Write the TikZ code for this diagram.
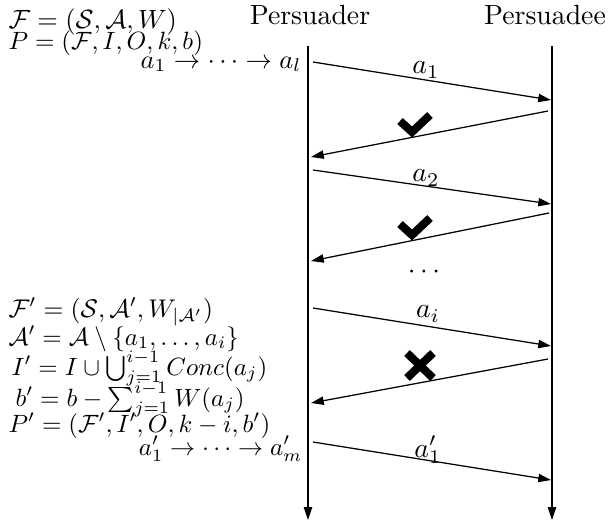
\documentclass[tikz,border=0pt]{standalone}
\usepackage{graphicx}
\usetikzlibrary{arrows.meta}
\newcommand{\rowfit}[2]{\scalebox{#1}{$#2$}}
\begin{document}
\begin{tikzpicture}[x=0.36pt,y=-0.36pt,
  life/.style={line width=0.45pt,-{Triangle[length=4.6pt,width=3pt]}},
  msg/.style={line width=0.45pt,-{Triangle[length=4.6pt,width=3pt]}},
  lbl/.style={inner sep=0pt},
  formula/.style={inner sep=0pt,anchor=base west},
  rformula/.style={inner sep=0pt,anchor=base east},
  tick/.style={line width=2.9pt,line cap=butt,line join=miter}]
\useasboundingbox (0,0) rectangle (608,522);
% headers
\node[lbl] (persuader) at (310,15) {Persuader};
\node[lbl] (persuadee) at (545,15) {Persuadee};
% lifelines
\coordinate (L0) at (308,46); \coordinate (L1) at (308,520);
\coordinate (R0) at (552,46); \coordinate (R1) at (552,520);
\draw[life] (L0) -- (L1);
\draw[life] (R0) -- (R1);
% message end points
\coordinate (m1s) at (313,62);  \coordinate (m1e) at (551,100);
\coordinate (r1s) at (548,111); \coordinate (r1e) at (311,157);
\coordinate (m2s) at (313,170); \coordinate (m2e) at (551,204);
\coordinate (r2s) at (549,213); \coordinate (r2e) at (311,261);
\coordinate (m3s) at (313,308); \coordinate (m3e) at (551,346);
\coordinate (r3s) at (548,359); \coordinate (r3e) at (311,403);
\coordinate (m4s) at (313,442); \coordinate (m4e) at (551,480);
\draw[msg] (m1s) -- (m1e);
\draw[msg] (r1s) -- (r1e);
\draw[msg] (m2s) -- (m2e);
\draw[msg] (r2s) -- (r2e);
\draw[msg] (m3s) -- (m3e);
\draw[msg] (r3s) -- (r3e);
\draw[msg] (m4s) -- (m4e);
% labels
\node[lbl] (la1) at (426,70) {$a_1$};
\node[lbl] (la2) at (426,178) {$a_2$};
\node[lbl] (lai) at (428,314) {$a_i$};
\node[lbl] (la1p) at (428,450) {$a'_1$};
\node[lbl] (dots) at (424,272) {$\cdots$};
% check marks and cross
\draw[tick] (400,121) -- (412,132) -- (430,115);
\draw[tick] (400,224) -- (412,235) -- (430,218);
\draw[tick] (407,353) -- (433,378);
\draw[tick] (433,353) -- (407,378);
% top formulas
\node[formula] (f1) at (8,28) {\rowfit{0.95}{\mathcal{F}=(\mathcal{S},\mathcal{A},W)}};
\node[formula] (f2) at (8,49) {\rowfit{0.9}{P=(\mathcal{F},I,O,k,b)}};
\node[rformula] (f3) at (302,68) {\rowfit{0.95}{a_1\rightarrow\cdots\rightarrow a_l}};
% bottom formulas
\node[formula] (g1) at (8,317) {\rowfit{0.92}{\mathcal{F}'=(\mathcal{S},\mathcal{A}',W_{|\mathcal{A}'})}};
\node[formula] (g2) at (8,345) {\rowfit{0.9}{\mathcal{A}'=\mathcal{A}\setminus\{a_1,\ldots,a_i\}}};
\node[formula] (g3) at (11,375) {\rowfit{0.9}{I'=I\cup\bigcup_{j=1}^{i-1}Conc(a_j)}};
\node[formula] (g4) at (15,406) {\rowfit{0.9}{b'=b-\sum_{j=1}^{i-1}W(a_j)}};
\node[formula] (g5) at (8,432) {\rowfit{0.9}{P'=(\mathcal{F}',I',O,k-i,b')}};
\node[rformula] (g6) at (303,455) {\rowfit{0.9}{a'_1\rightarrow\cdots\rightarrow a'_m}};
\end{tikzpicture}
\end{document}
